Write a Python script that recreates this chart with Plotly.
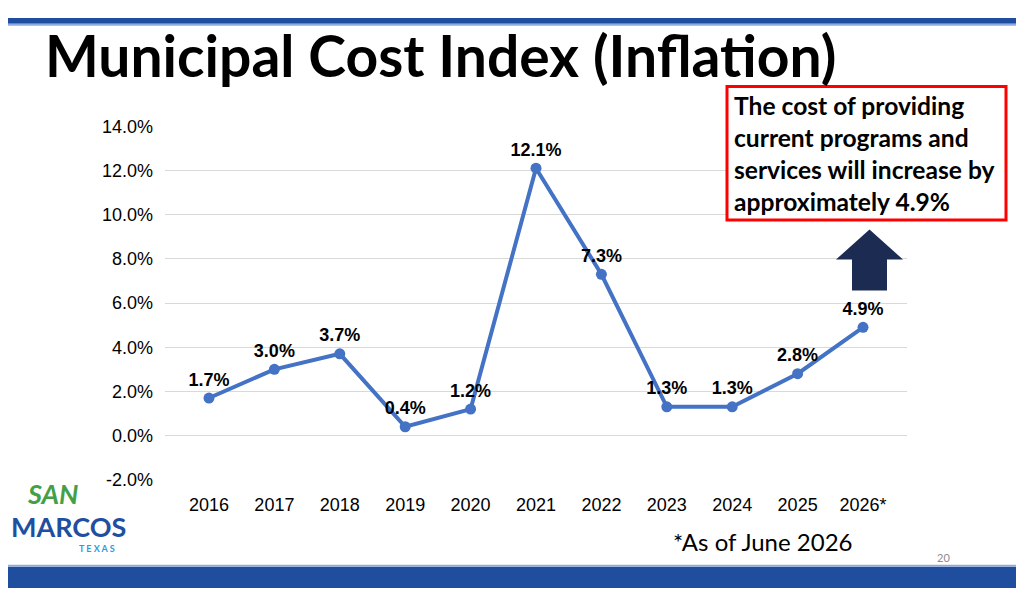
import plotly.graph_objects as go

years = ["2016", "2017", "2018", "2019", "2020", "2021", "2022", "2023", "2024", "2025", "2026*"]
inflation = [1.7, 3.0, 3.7, 0.4, 1.2, 12.1, 7.3, 1.3, 1.3, 2.8, 4.9]
y_ticks = [-2, 0, 2, 4, 6, 8, 10, 12, 14]

W, H = 1024, 590
OFF = 8  # page body margin offset


def px(x):
    return (x - OFF) / W


def py(y):
    return 1 - (y - OFF) / H


fig = go.Figure()
fig.add_trace(go.Scatter(
    x=years, y=inflation, mode="lines+markers+text",
    line=dict(color="#4472C4", width=4),
    marker=dict(color="#4472C4", size=11),
    text=[f"{v:.1f}%" for v in inflation],
    textposition="top center",
    textfont=dict(family="Liberation Sans, Arial", size=18, color="#000000", weight="bold"),
    cliponaxis=False,
    hoverinfo="skip",
))

shapes = [
    # top band
    dict(type="rect", xref="paper", yref="paper", x0=0, x1=1, y0=py(14), y1=py(8),
         fillcolor="#1F4E9F", line=dict(width=0), layer="below"),
    dict(type="rect", xref="paper", yref="paper", x0=0, x1=1, y0=py(16), y1=py(14),
         fillcolor="#8FAADC", line=dict(width=0), layer="below"),
    # bottom band
    dict(type="rect", xref="paper", yref="paper", x0=0, x1=1, y0=py(598), y1=py(576),
         fillcolor="#1F4E9F", line=dict(width=0), layer="below"),
    dict(type="rect", xref="paper", yref="paper", x0=0, x1=1, y0=py(576), y1=py(574),
         fillcolor="#8FAADC", line=dict(width=0), layer="below"),
    # red box
    dict(type="rect", xref="paper", yref="paper", x0=px(727), x1=px(1006), y0=py(217), y1=py(79),
         fillcolor="#FFFFFF", line=dict(color="#FF0000", width=3)),
    # arrow
    dict(type="path", xref="paper", yref="paper",
         path=(f"M {px(852)} {py(290)} L {px(852)} {py(258)} L {px(836)} {py(258)} "
               f"L {px(869.5)} {py(227)} L {px(903)} {py(258)} L {px(887)} {py(258)} "
               f"L {px(887)} {py(290)} Z"),
         fillcolor="#1B2B52", line=dict(width=0)),
]

annotations = [
    dict(text="<b>Municipal Cost Index (Inflation)</b>", xref="paper", yref="paper",
         x=px(43), y=py(46), xanchor="left", yanchor="middle", showarrow=False,
         font=dict(family="Lato", size=57, color="#000000")),
    dict(text="<b>The cost of providing<br>current programs and<br>services will increase by<br>approximately 4.9%</b>",
         xref="paper", yref="paper", x=px(732), y=py(148), xanchor="left", yanchor="middle",
         align="left", showarrow=False,
         font=dict(family="Lato", size=24.6, color="#000000")),
    dict(text="*As of June 2026", xref="paper", yref="paper", x=px(671), y=py(550),
         xanchor="left", yanchor="middle", showarrow=False,
         font=dict(family="Lato", size=24, color="#000000")),
    dict(text="20", xref="paper", yref="paper", x=px(943), y=py(566),
         xanchor="center", yanchor="middle", showarrow=False,
         font=dict(family="Lato", size=11, color="#8C8C8C")),
    # logo
    dict(text="<b><i>SAN</i></b>", xref="paper", yref="paper", x=px(53), y=py(500),
         xanchor="center", yanchor="middle", showarrow=False,
         font=dict(family="Lato", size=27, color="#43A047")),
    dict(text="<b>MARCOS</b>", xref="paper", yref="paper", x=px(68), y=py(534),
         xanchor="center", yanchor="middle", showarrow=False,
         font=dict(family="Lato", size=27, color="#1F4FA0")),
    dict(text="<b>T E X A S</b>", xref="paper", yref="paper", x=px(97), y=py(557),
         xanchor="center", yanchor="middle", showarrow=False,
         font=dict(family="Lato", size=9, color="#2D9BDB")),
]

fig.update_layout(
    width=W, height=H, autosize=False,
    margin=dict(l=0, r=0, t=0, b=0),
    paper_bgcolor="#FFFFFF", plot_bgcolor="#FFFFFF",
    showlegend=False,
    shapes=shapes, annotations=annotations,
    xaxis=dict(domain=[px(165), px(907)], showgrid=False, showline=False, zeroline=False,
               tickfont=dict(family="Liberation Sans, Arial", size=18, color="#000000"),
               ticks="", ticklabelstandoff=12, fixedrange=True),
    yaxis=dict(domain=[py(486), py(120)], range=[-2, 14], tickvals=y_ticks,
               ticktext=[f"{v:.1f}%" for v in y_ticks],
               showgrid=True, gridcolor="#D9D9D9", gridwidth=1.3, zeroline=False, showline=False,
               tickfont=dict(family="Liberation Sans, Arial", size=18, color="#000000"),
               ticks="", ticklabelstandoff=11, fixedrange=True),
)

fig.write_html("out.html", config={"displayModeBar": False})
